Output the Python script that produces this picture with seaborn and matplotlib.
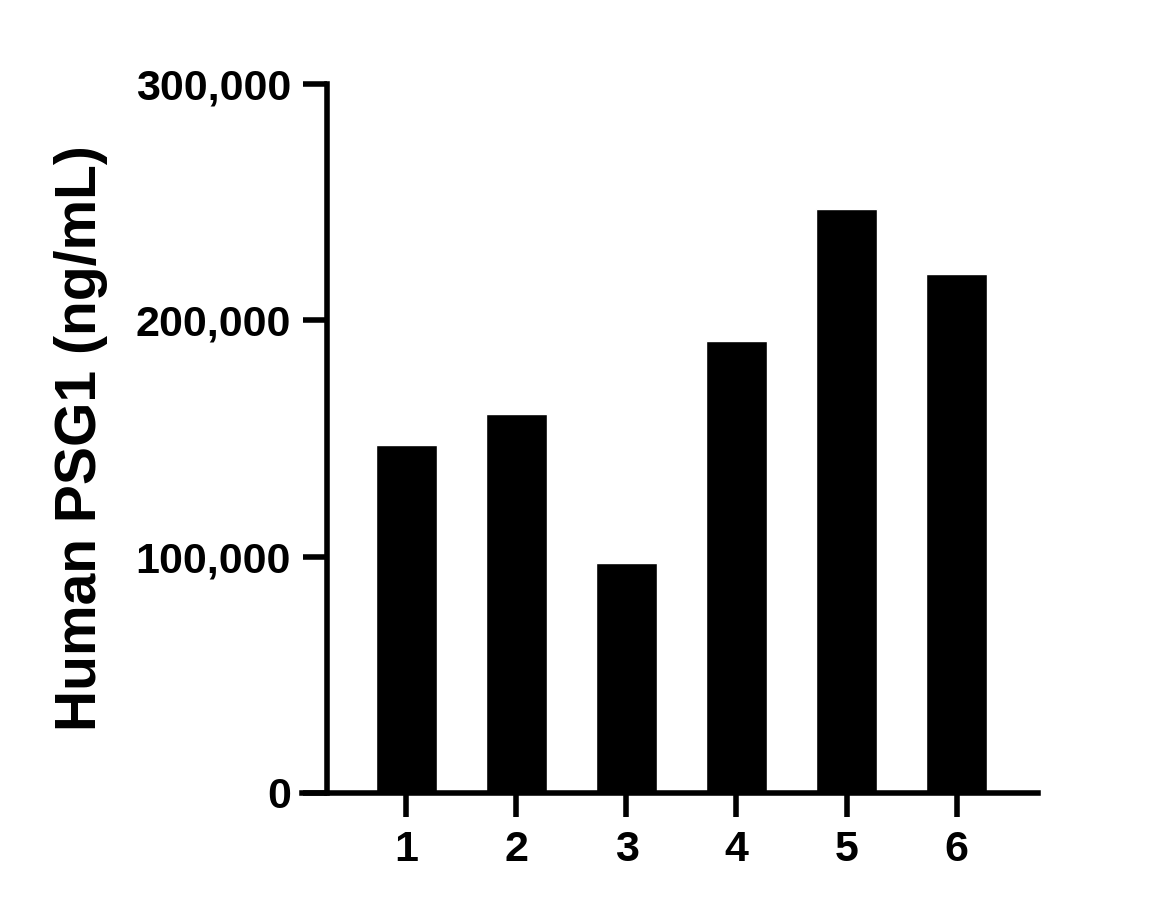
import matplotlib
matplotlib.use("Agg")
import matplotlib.pyplot as plt
import seaborn as sns
from matplotlib.ticker import StrMethodFormatter

# data
samples = ["1", "2", "3", "4", "5", "6"]
psg1 = [147400, 160400, 97400, 191300, 247100, 219600]
yticks = [0, 100000, 200000, 300000]

sns.set_style("ticks")
plt.rcParams['font.family'] = ['Liberation Sans', 'DejaVu Sans']
plt.rcParams['font.weight'] = 'bold'
plt.rcParams['text.color'] = 'black'
plt.rcParams['axes.labelcolor'] = 'black'
plt.rcParams['xtick.color'] = 'black'
plt.rcParams['ytick.color'] = 'black'

fig = plt.figure(figsize=(11.74, 9.1), dpi=100)
ax = fig.add_axes([0.2572, 0.1286, 0.6267, 0.7791])

sns.barplot(x=samples, y=psg1, color="black", saturation=1, width=0.55, ax=ax)

# x axis starts a bit left of the y axis like in the original
ax.set_xlim(-0.95, 5.738)
ax.set_ylim(0, 300000)
ax.set_yticks(yticks)
ax.yaxis.set_major_formatter(StrMethodFormatter('{x:,.0f}'))

ax.spines['left'].set_position(('data', -0.723))
ax.spines['right'].set_visible(False)
ax.spines['top'].set_visible(False)
for s in ['left', 'bottom']:
    ax.spines[s].set_linewidth(4)
    ax.spines[s].set_color('black')

ax.tick_params(axis='both', length=17, width=4, colors='black', labelsize=31)
ax.tick_params(axis='y', pad=9)
ax.tick_params(axis='x', pad=10)
for lbl in ax.get_xticklabels() + ax.get_yticklabels():
    lbl.set_fontweight('bold')

ax.set_ylabel("Human PSG1 (ng/mL)", fontsize=41, fontweight='bold', color='black')
ax.yaxis.set_label_coords(-0.2637, 0.5)
ax.set_xlabel("")

fig.savefig("out.png", dpi=100)
